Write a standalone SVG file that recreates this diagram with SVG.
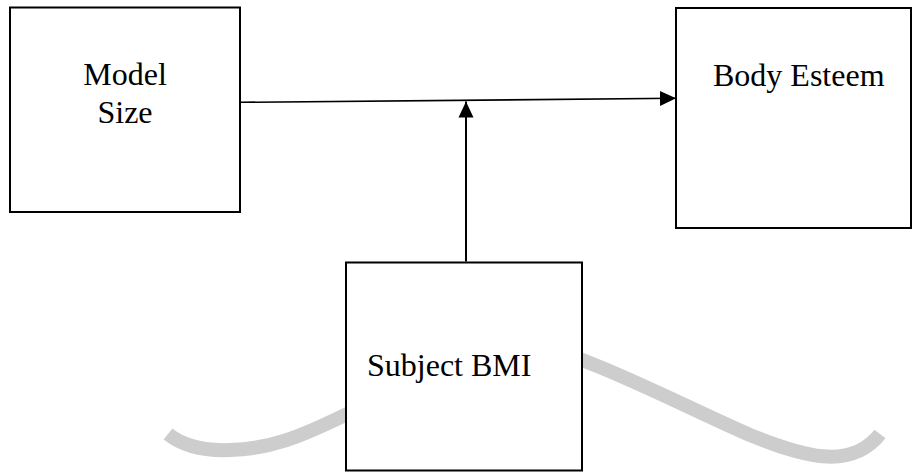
<svg xmlns="http://www.w3.org/2000/svg" width="912" height="472" viewBox="0 0 912 472">
<style>
.box{fill:#fff;stroke:#000;stroke-width:2}
.lbl{font-family:"Liberation Serif","Times New Roman",serif;font-size:32px;fill:#000}
.edge{stroke:#000;fill:none}
</style>
<defs>
<marker id="ah" markerUnits="userSpaceOnUse" markerWidth="16" markerHeight="16" viewBox="0 0 16 16" refX="16" refY="8" orient="auto">
<path d="M0,0.5 L16,8 L0,15.5 Z" fill="#000"/>
</marker>
</defs>
<rect width="912" height="472" fill="#fff"/>
<path id="watermark" d="M168,434 C183,446 205,451 230,450 C270,449 300,437 345,415 C400,390 450,340 510,340 C580,350 670,400 750,435 C800,455 850,472 880,434" fill="none" stroke="#cdcdcd" stroke-width="14"/>
<g id="model-size">
<rect class="box" x="10" y="7.5" width="230" height="204.5"/>
<text class="lbl" x="125" y="85" text-anchor="middle">Model</text>
<text class="lbl" x="125" y="123" text-anchor="middle">Size</text>
</g>
<g id="body-esteem">
<rect class="box" x="676" y="8" width="235" height="220"/>
<text class="lbl" x="713" y="86">Body Esteem</text>
</g>
<g id="subject-bmi">
<rect class="box" x="346" y="262.5" width="236" height="208"/>
<text class="lbl" x="367" y="376">Subject BMI</text>
</g>
<g id="connectors">
<line class="edge" x1="241" y1="102.3" x2="676" y2="98.3" stroke-width="1.6" marker-end="url(#ah)"/>
<line class="edge" x1="466" y1="261.5" x2="466" y2="101.5" stroke-width="2" marker-end="url(#ah)"/>
</g>
</svg>
